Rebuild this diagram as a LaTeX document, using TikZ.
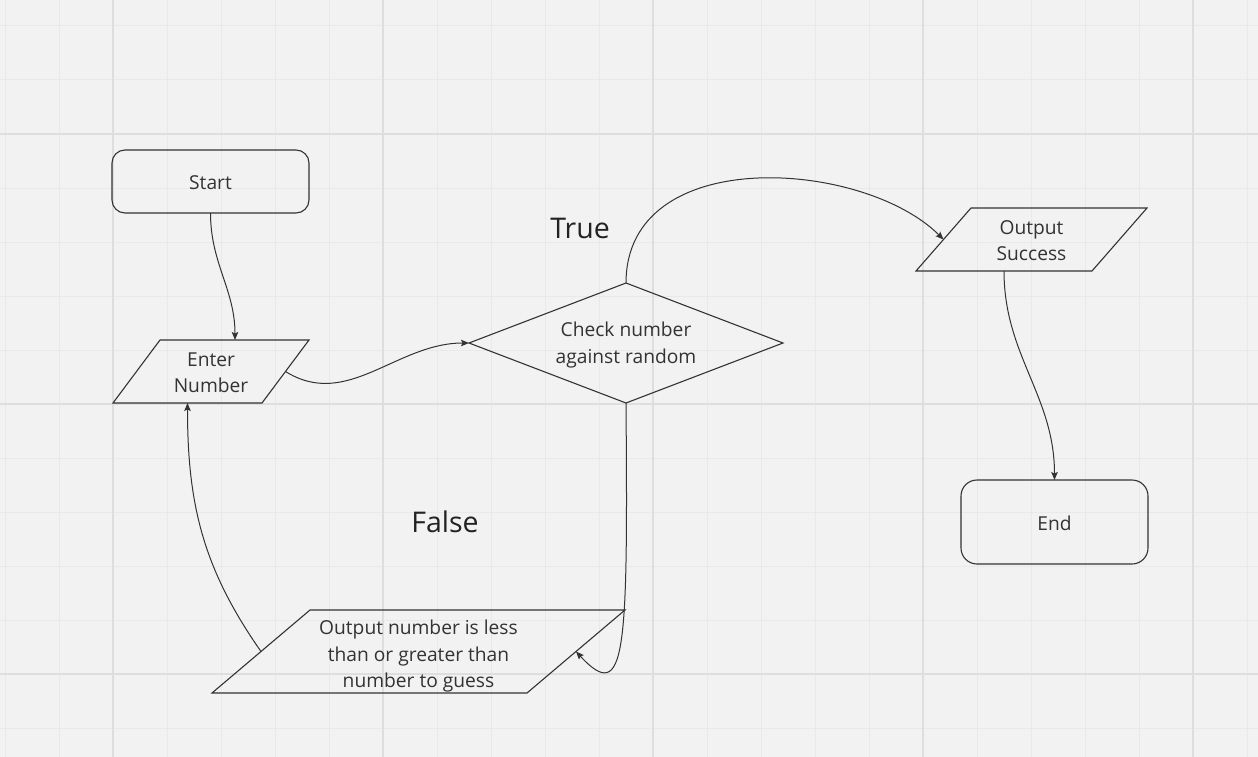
\documentclass[tikz,border=0pt]{standalone}
\usepackage{fontspec}
\setmainfont{Open Sans}
\usetikzlibrary{shapes.geometric,arrows.meta,calc}
\definecolor{bg}{HTML}{F2F2F2}
\definecolor{gminor}{HTML}{E9E9E9}
\definecolor{gmajor}{HTML}{DEDEDE}
\definecolor{ink}{HTML}{333333}
\definecolor{lblink}{HTML}{222222}
\newcommand{\mydrop}[2]{\raisebox{-#1}[\height][\depth]{#2}}
\begin{document}
\begin{tikzpicture}[x=1pt,y=-1pt,
  txt/.style={text=ink,font=\fontsize{19.2}{26.5}\selectfont,align=center},
  term/.style={txt,draw=ink,line width=1.1pt,rounded corners=13pt,inner sep=0pt,outer sep=0pt},
  iobox/.style={txt,inner sep=0pt,outer sep=0pt},
  ioline/.style={draw=ink,line width=1.1pt},
  decide/.style={txt,draw=ink,line width=1.1pt,diamond,aspect=2.6,inner sep=0pt,outer sep=0pt},
  lbl/.style={text=lblink,font=\fontsize{28.5}{34}\selectfont,inner sep=0pt},
  ar/.style={draw=ink,line width=1pt,-{Stealth[length=8pt,width=6.5pt,inset=1.5pt]}}
]
\useasboundingbox (0,0) rectangle (1258,757);
\fill[bg] (0,0) rectangle (1258,757);
% grid
\foreach \x in {5,59,...,1258} \draw[gminor,line width=1pt] (\x,0) -- (\x,757);
\foreach \y in {26,80,...,757} \draw[gminor,line width=1pt] (0,\y) -- (1258,\y);
\foreach \x in {113,383,653,923,1193} \draw[gmajor,line width=1.5pt] (\x,0) -- (\x,757);
\foreach \y in {134,404,674} \draw[gmajor,line width=1.5pt] (0,\y) -- (1258,\y);

% nodes
\node[term,minimum width=197pt,minimum height=63pt] (start) at (210.5,181.5) {\mydrop{1pt}{Start}};
\node[iobox,minimum width=196pt,minimum height=63pt] (en) at (211,371.5) {\mydrop{2.5pt}{\begin{tabular}{@{}c@{}}Enter\\Number\end{tabular}}};
\draw[ioline] ($(en.north west)+(47,0)$) -- (en.north east) -- ($(en.south east)+(-47,0)$) -- (en.south west) -- cycle;
\node[decide,minimum width=314pt,minimum height=120pt] (dia) at (626,343) {\mydrop{1.5pt}{\begin{tabular}{@{}c@{}}Check number\\against random\end{tabular}}};
\node[iobox,minimum width=231pt,minimum height=63pt] (os) at (1031.5,239.5) {\mydrop{2.5pt}{\begin{tabular}{@{}c@{}}Output\\Success\end{tabular}}};
\draw[ioline] ($(os.north west)+(55,0)$) -- (os.north east) -- ($(os.south east)+(-55,0)$) -- (os.south west) -- cycle;
\node[term,rounded corners=16pt,minimum width=187pt,minimum height=84pt] (end) at (1054.5,522) {\mydrop{1pt}{End}};
\node[iobox,minimum width=413pt,minimum height=83pt] (onum) at (418.5,651.5) {\mydrop{4.5pt}{\begin{tabular}{@{}c@{}}Output number is less\\than or greater than\\number to guess\end{tabular}}};
\draw[ioline] ($(onum.north west)+(98,0)$) -- (onum.north east) -- ($(onum.south east)+(-98,0)$) -- (onum.south west) -- cycle;
\node[lbl] (ltrue) at (580,228) {True};
\node[lbl] (lfalse) at (445,522) {False};

% connectors
\draw[ar] (start.south) to[out=-90,in=90] ($(en.north)+(24,0)$);
\draw[ar] ($(en.east)+(-23.5,0)$) to[out=-32,in=180] (dia.west);
\draw[ar] (dia.north) .. controls +(0,-140) and +(-80,-80) .. ($(os.west)+(27.5,0)$);
\draw[ar] ($(os.south)+(-27.5,0)$) to[out=-90,in=90] (end.north);
\draw[ar] (dia.south) .. controls +(2,250) and +(50,54) .. ($(onum.east)+(-49,0)$);
\draw[ar] ($(onum.west)+(49,0)$) to[out=125,in=-90] ($(en.south)+(-23.5,0)$);
\end{tikzpicture}
\end{document}
